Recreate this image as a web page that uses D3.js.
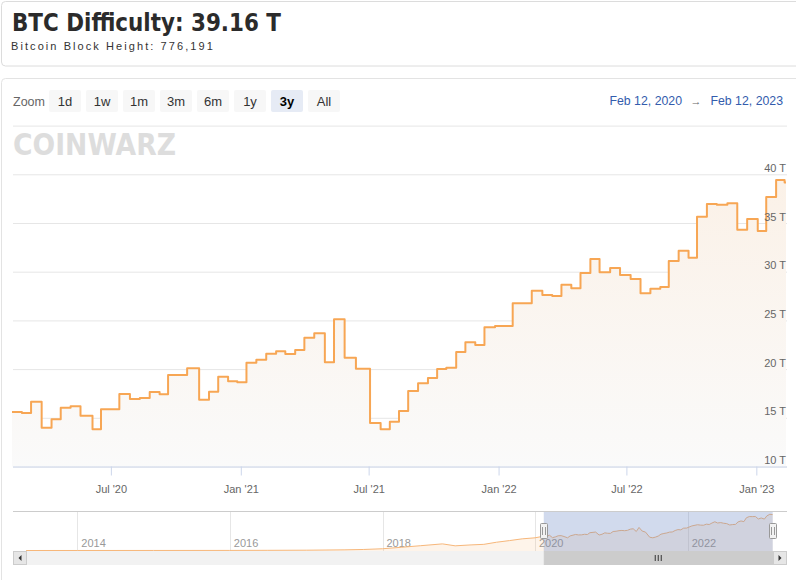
<!DOCTYPE html>
<html><head><meta charset="utf-8">
<script src="https://cdn.jsdelivr.net/npm/d3@7/dist/d3.min.js"></script>
<style>
html,body{margin:0;padding:0;background:#fff;}
svg{display:block;font-family:"Liberation Sans",Arial,sans-serif;}
</style></head>
<body>
<svg id="c" width="796" height="580"></svg>
<script>
// ---------- data ----------
const titleText = "BTC Difficulty: 39.16 T";
const subtitleText = "Bitcoin Block Height: 776,191";
const zoomButtons = ["1d","1w","1m","3m","6m","1y","3y","All"];
const selectedButton = "3y";
const rangeFrom = "Feb 12, 2020";
const rangeTo = "Feb 12, 2023";

const stepDates = ["2020-02-12","2020-02-26","2020-03-10","2020-03-25","2020-04-08","2020-04-21","2020-05-05","2020-05-19","2020-06-05","2020-06-17",
"2020-07-13","2020-07-28","2020-08-11","2020-08-25","2020-09-08","2020-09-20","2020-10-17","2020-11-03","2020-11-17","2020-11-30",
"2020-12-14","2020-12-27","2021-01-09","2021-01-23","2021-02-06","2021-02-20","2021-03-05","2021-03-19","2021-04-01","2021-04-15",
"2021-04-30","2021-05-13","2021-05-28","2021-06-13","2021-07-03","2021-07-18","2021-07-31","2021-08-13","2021-08-26","2021-09-09",
"2021-09-23","2021-10-06","2021-10-19","2021-11-02","2021-11-15","2021-11-29","2021-12-12","2021-12-27","2022-01-21","2022-02-17",
"2022-03-04","2022-03-18","2022-03-31","2022-04-14","2022-04-27","2022-05-11","2022-05-24","2022-06-08","2022-06-22","2022-07-07",
"2022-07-21","2022-08-04","2022-08-18","2022-08-30","2022-09-13","2022-09-27","2022-10-09","2022-10-23","2022-11-06","2022-11-21",
"2022-12-05","2022-12-19","2023-01-03","2023-01-15","2023-01-29","2023-02-10","2023-02-12"];
const stepValues = [15.60,15.50,16.65,13.98,14.84,16.04,16.18,15.22,13.82,15.87,
17.44,16.93,17.03,17.65,17.41,19.39,20.08,16.86,17.68,19.22,
18.75,18.64,20.66,20.95,21.58,21.83,21.55,21.96,23.22,23.67,
20.70,25.11,21.17,20.04,14.47,13.82,14.60,15.70,17.75,18.54,
19.09,20.01,20.14,21.76,22.75,22.47,24.29,24.43,26.75,28.05,
27.61,27.50,28.67,28.30,29.87,31.30,29.94,30.38,29.66,29.25,
27.78,28.25,28.43,31.10,32.16,31.44,35.65,36.95,36.88,37.02,
34.31,35.41,34.18,37.67,39.41,39.16,39.16];

// navigator history before the zoomed range (T)
const navDates = ["2013-05-01","2014-01-01","2015-01-01","2016-01-01","2016-07-01","2017-01-01","2017-07-01","2017-10-01","2018-01-01","2018-04-01",
"2018-07-01","2018-10-15","2018-12-15","2019-03-01","2019-05-01","2019-07-01","2019-09-01","2019-11-01","2020-01-01"];
const navValues = [0.00001,0.0014,0.04,0.1,0.2,0.33,0.7,1.1,1.9,3.5,
5.2,7.2,5.1,6.1,6.7,9.0,10.8,12.7,13.8];

const yTicks = [10,15,20,25,30,35,40];
const yGrid = [10,15,20,25,30,35,40,45];
const xTickDates = ["2020-07-01","2021-01-01","2021-07-01","2022-01-01","2022-07-01","2023-01-01"];
const navTickYears = ["2014","2016","2018","2020","2022"];

// ---------- setup ----------
const P = d3.timeParse("%Y-%m-%d");
const svg = d3.select("#c");
const main = stepDates.map((d,i)=>({date:P(d), v:stepValues[i]}));
const nav = navDates.map((d,i)=>({date:P(d), v:navValues[i]})).concat(main);

// cards
svg.append("rect").attr("x",1.5).attr("y",1.5).attr("width",800).attr("height",64.5)
  .attr("rx",4).attr("fill","#fff").attr("stroke","#dcdcdc");
svg.append("rect").attr("x",1.5).attr("y",78.5).attr("width",800).attr("height",520)
  .attr("rx",4).attr("fill","#fff").attr("stroke","#e3e3e3");

svg.append("text").attr("x",12).attr("y",31).text(titleText)
  .attr("font-family","'DejaVu Sans',sans-serif").attr("font-weight","bold")
  .attr("font-size",24).attr("fill","#2b2b2b")
  .attr("textLength",269).attr("lengthAdjust","spacingAndGlyphs");
svg.append("text").attr("x",11).attr("y",50).text(subtitleText)
  .attr("font-size",11).attr("fill","#333").attr("letter-spacing","1.2")
  .attr("textLength",203).attr("lengthAdjust","spacing");

// range selector
svg.append("text").attr("x",13).attr("y",106).text("Zoom").attr("font-size",12.5).attr("fill","#666");
const btn = svg.append("g").selectAll("g").data(zoomButtons).join("g")
  .attr("transform",(d,i)=>`translate(${49+i*37},90)`);
btn.append("rect").attr("width",32).attr("height",22).attr("rx",2)
  .attr("fill",d=>d===selectedButton?"#e6ebf5":"#f7f7f7");
btn.append("text").attr("x",16).attr("y",16).attr("text-anchor","middle")
  .attr("font-size",13).attr("fill",d=>d===selectedButton?"#000":"#333")
  .attr("font-weight",d=>d===selectedButton?"bold":"normal").text(d=>d);
svg.append("text").attr("x",682).attr("y",105).attr("text-anchor","end").attr("font-size",12.3).attr("fill","#335cad").text(rangeFrom);
svg.append("text").attr("x",696).attr("y",105).attr("text-anchor","middle").attr("font-size",11).attr("fill","#666").text("→");
svg.append("text").attr("x",783).attr("y",105).attr("text-anchor","end").attr("font-size",12.3).attr("fill","#335cad").text(rangeTo);

// ---------- main chart ----------
const x = d3.scaleTime().domain([P("2020-02-12"),P("2023-02-12")]).range([12,786]);
const y = d3.scaleLinear().domain([10,45]).range([466.5,125.6]);
const L = 13, R = 787;

// gridlines
svg.append("g").attr("transform",`translate(${R},0)`)
  .call(d3.axisLeft(y).tickValues(yGrid).tickSize(R-L).tickFormat(""))
  .call(g=>g.select(".domain").remove())
  .call(g=>g.selectAll("line").attr("stroke","#e6e6e6"));

// logo watermark
svg.append("text").attr("x",13).attr("y",155).text("COINWARZ")
  .attr("font-family","'DejaVu Sans',sans-serif").attr("font-weight","bold").attr("font-size",30)
  .attr("fill","#dddddd").attr("textLength",163).attr("lengthAdjust","spacingAndGlyphs");

// area + line
const defs = svg.append("defs");
const gr = defs.append("linearGradient").attr("id","ag").attr("gradientUnits","userSpaceOnUse")
  .attr("x1",0).attr("x2",0).attr("y1",y(40)).attr("y2",y(10));
gr.append("stop").attr("offset",0).attr("stop-color","#fbf1e7");
gr.append("stop").attr("offset",1).attr("stop-color","#fafafa");
svg.append("path").datum(main).attr("fill","url(#ag)")
  .attr("d",d3.area().curve(d3.curveStepAfter).x(d=>x(d.date)).y0(y(10)).y1(d=>y(d.v)));
svg.append("path").datum(main).attr("fill","none").attr("stroke","#f7a654").attr("stroke-width",2)
  .attr("stroke-linejoin","round")
  .attr("d",d3.line().curve(d3.curveStepAfter).x(d=>x(d.date)).y(d=>y(d.v)));

// y labels
svg.append("g").attr("transform",`translate(${R},0)`)
  .call(d3.axisLeft(y).tickValues(yTicks).tickSize(0).tickPadding(1).tickFormat(d=>d+" T"))
  .call(g=>g.select(".domain").remove())
  .call(g=>g.selectAll("text").attr("y",-3).attr("dy",0).attr("font-size",11).attr("fill","#666")
    .attr("font-family","'Liberation Sans',Arial,sans-serif"));

// x axis
const fmt = d3.timeFormat("%b '%y");
svg.append("g").attr("transform",`translate(0,${y(10)})`)
  .call(d3.axisBottom(x).tickValues(xTickDates.map(P)).tickSize(9).tickPadding(10).tickFormat(fmt))
  .call(g=>g.select(".domain").attr("d",`M${L},0.5H${R}`).attr("stroke","#ccd6eb"))
  .call(g=>g.selectAll("line").attr("stroke","#ccd6eb"))
  .call(g=>g.selectAll("text").attr("font-size",11).attr("fill","#666")
    .attr("font-family","'Liberation Sans',Arial,sans-serif"));

// ---------- navigator ----------
const nx = d3.scaleTime().domain([P("2014-01-01"),P("2022-01-01")]).range([77.3,687.7]);
const ny = d3.scaleLinear().domain([0,43]).range([550.5,511]);
const nTop = 511, nBot = 551;
svg.append("g").selectAll("line").data(navTickYears).join("line")
  .attr("x1",d=>Math.round(nx(P(d+"-01-01")))+0.5).attr("x2",d=>Math.round(nx(P(d+"-01-01")))+0.5)
  .attr("y1",nTop).attr("y2",nBot).attr("stroke","#e6e6e6");
svg.append("g").selectAll("text").data(navTickYears).join("text")
  .attr("x",d=>nx(P(d+"-01-01"))+4).attr("y",546.5).attr("font-size",11).attr("fill","#999").text(d=>d);
svg.append("path").datum(nav).attr("fill","rgba(247,166,84,0.12)")
  .attr("d",d3.area().x(d=>nx(d.date)).y0(nBot).y1(d=>ny(d.v)));
svg.append("path").datum(nav).attr("fill","none").attr("stroke","#f7b77a").attr("stroke-width",1)
  .attr("d",d3.line().x(d=>nx(d.date)).y(d=>ny(d.v)));
const m0 = nx(x.domain()[0]), m1 = nx(x.domain()[1]);
svg.append("rect").attr("x",m0).attr("y",nTop).attr("width",m1-m0).attr("height",nBot-nTop)
  .attr("fill","rgba(102,133,194,0.3)");
svg.append("line").attr("x1",L).attr("x2",R).attr("y1",nTop+0.5).attr("y2",nTop+0.5).attr("stroke","#cccccc");

// scrollbar
svg.append("rect").attr("x",L).attr("y",551).attr("width",R-L).attr("height",14).attr("fill","#f2f2f2");
svg.append("rect").attr("x",m0+0.5).attr("y",551.5).attr("width",m1-m0).attr("height",13)
  .attr("fill","#cccccc").attr("stroke","#cccccc");
[-3,0,3].forEach(o=>svg.append("line").attr("x1",(m0+m1)/2+o).attr("x2",(m0+m1)/2+o)
  .attr("y1",555).attr("y2",561).attr("stroke","#333").attr("stroke-width",1));
[[L,"M21.5,555L18.5,558L21.5,561Z"],[R-14,"M778.5,555L781.5,558L778.5,561Z"]].forEach(([bx,ar])=>{
  svg.append("rect").attr("x",bx+0.5).attr("y",551.5).attr("width",13).attr("height",13)
    .attr("fill","#e6e6e6").attr("stroke","#cccccc");
  svg.append("path").attr("d",ar).attr("fill","#333");
});

// handles
[m0,m1].forEach(hx=>{
  const g = svg.append("g").attr("transform",`translate(${Math.round(hx)},0)`);
  g.append("rect").attr("x",-3.5).attr("y",523.5).attr("width",7).attr("height",15).attr("rx",1)
    .attr("fill","#f2f2f2").attr("stroke","#999");
  g.append("path").attr("d","M-1.5,527V535M1.5,527V535").attr("stroke","#999");
});
</script>
</body></html>
